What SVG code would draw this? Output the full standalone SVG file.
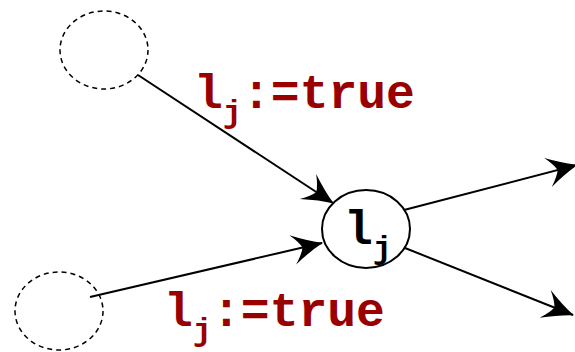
<svg xmlns="http://www.w3.org/2000/svg" width="575" height="352" viewBox="0 0 575 352">
  <style>
    .ghost { fill: none; stroke: #000; stroke-width: 1.5; stroke-dasharray: 5 4; }
    .node { fill: #fff; stroke: #000; stroke-width: 2; }
    .edge { fill: none; stroke: #000; stroke-width: 2; marker-end: url(#tip); }
    .lbl { font-family: "Liberation Mono", "DejaVu Sans Mono", monospace; font-weight: bold; font-size: 48px; }
    .red { fill: #990000; }
  </style>
  <defs>
    <!-- swept-back stealth head -->
    <marker id="tip" markerUnits="userSpaceOnUse" markerWidth="40" markerHeight="40" viewBox="-36 -20 40 40" refX="0" refY="0" orient="auto" overflow="visible">
      <path d="M1,0 Q-13,-5 -30,-15 Q-22,-6 -20,0 Q-22,6 -30,15 Q-13,5 1,0 Z" fill="#000"/>
    </marker>
  </defs>

  <!-- connectors -->
  <g id="edges">
    <line class="edge" x1="138" y1="75" x2="333" y2="203"/>
    <line class="edge" x1="90" y1="297" x2="322" y2="243"/>
    <line class="edge" x1="404" y1="210" x2="577" y2="165"/>
    <line class="edge" x1="405" y1="248" x2="573" y2="315"/>
  </g>

  <!-- upstream placeholders -->
  <g id="src-top">
    <ellipse class="ghost" cx="104" cy="50" rx="44" ry="39"/>
  </g>
  <g id="src-bottom">
    <ellipse class="ghost" cx="59" cy="311" rx="44" ry="39"/>
  </g>

  <!-- literal node -->
  <g id="node-lj">
    <ellipse class="node" cx="366" cy="229" rx="44" ry="39"/>
    <text class="lbl" x="344" y="244">l<tspan font-size="32" dy="14">j</tspan></text>
  </g>

  <!-- assignment labels -->
  <g id="label-top">
    <text class="lbl red" x="194" y="108">l<tspan font-size="32" dy="14">j</tspan><tspan dy="-14">:=true</tspan></text>
  </g>
  <g id="label-bottom">
    <text class="lbl red" x="164" y="326">l<tspan font-size="32" dy="14">j</tspan><tspan dy="-14">:=true</tspan></text>
  </g>
</svg>
